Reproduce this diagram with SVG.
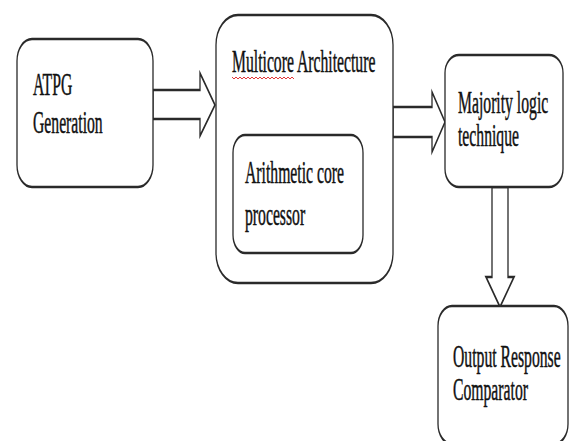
<svg xmlns="http://www.w3.org/2000/svg" width="570" height="441" viewBox="0 0 570 441">
<style>
.box{fill:#fff;stroke:#2a2a2a;stroke-width:1.3}
.arr{fill:#fff;stroke:#2a2a2a;stroke-width:1.3;stroke-linejoin:miter}
.t{font-family:"Liberation Serif","Times New Roman",serif;font-size:15.7px;fill:#111;stroke:#111;stroke-width:0.25}
.sq{fill:none;stroke:#e02020;stroke-width:0.9}
</style>
<rect width="570" height="441" fill="#fff"/>
<g id="connectors">
<g transform="scale(1,2)">
<polygon class="arr" points="153,45 200,45 200,36.5 215,52.5 200,68 200,59.5 153,59.5"/>
<polygon class="arr" points="393,53.5 432,53.5 432,46 445,61 432,76 432,68.5 393,68.5"/>
<polygon class="arr" points="492,93.5 492,138.5 486,138.5 500,153.5 514,138.5 508,138.5 508,93.5"/>
</g>
</g>
<g id="atpg">
<rect class="box" transform="scale(1,2)" x="17" y="19.5" width="136" height="74" rx="15" ry="11"/>
<text class="t" transform="translate(33,95) scale(1,2.05)"><tspan x="0" y="0">ATPG</tspan><tspan x="0" y="18.5">Generation</tspan></text>
</g>
<g id="multicore">
<rect class="box" transform="scale(1,2)" x="216" y="7.5" width="177" height="134" rx="22" ry="15"/>
<text class="t" transform="translate(232,72) scale(1,2.05)">Multicore Architecture</text>
<polyline class="sq" points="232,77 234,79 236,77 238,79 240,77 242,79 244,77 246,79 248,77 250,79 252,77 254,79 256,77 258,79 260,77 262,79 264,77 266,79 268,77 270,79 272,77 274,79 276,77 278,79 280,77 282,79 284,77 286,79 288,77 290,79 292,77 294,79"/>
</g>
<g id="arithmetic">
<rect class="box" transform="scale(1,2)" x="233" y="67.5" width="130" height="59" rx="12" ry="9"/>
<text class="t" transform="translate(245,183) scale(1,2.05)"><tspan x="0" y="0">Arithmetic core</tspan><tspan x="0" y="20.5">processor</tspan></text>
</g>
<g id="majority">
<rect class="box" transform="scale(1,2)" x="445" y="27.5" width="118" height="66" rx="14" ry="9"/>
<text class="t" transform="translate(458,113) scale(1,2.05)"><tspan x="0" y="0">Majority logic</tspan><tspan x="0" y="16.3">technique</tspan></text>
</g>
<g id="output">
<rect class="box" transform="scale(1,2)" x="438" y="153" width="130" height="69" rx="14" ry="10"/>
<text class="t" transform="translate(453,367) scale(1,2.05)"><tspan x="0" y="0">Output Response</tspan><tspan x="0" y="16.1">Comparator</tspan></text>
</g>
</svg>
